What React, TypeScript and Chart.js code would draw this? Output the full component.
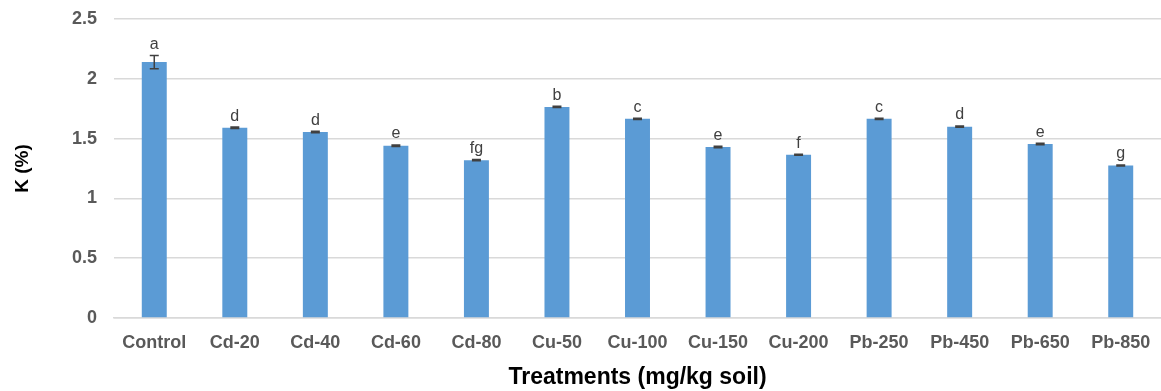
import React, { useEffect, useRef } from "react";
import { Chart, registerables } from "chart.js";

Chart.register(...registerables);

const categories = ["Control", "Cd-20", "Cd-40", "Cd-60", "Cd-80", "Cu-50", "Cu-100", "Cu-150", "Cu-200", "Pb-250", "Pb-450", "Pb-650", "Pb-850"];
const kValues = [2.14, 1.59, 1.555, 1.44, 1.32, 1.765, 1.665, 1.43, 1.365, 1.665, 1.6, 1.455, 1.275];
const kErrors = [0.055, 0.006, 0.006, 0.006, 0.005, 0.005, 0.005, 0.006, 0.004, 0.006, 0.006, 0.006, 0.004];
const sigLetters = ["a", "d", "d", "e", "fg", "b", "c", "e", "f", "c", "d", "e", "g"];
const yTicks = [0, 0.5, 1, 1.5, 2, 2.5];

const FONT = "'Liberation Sans', Arial, sans-serif";

const annotatePlugin = {
  id: "annotate",
  afterDatasetsDraw(chart: any) {
    const ctx = chart.ctx;
    const meta = chart.getDatasetMeta(0);
    const ys = chart.scales.y;
    ctx.save();
    meta.data.forEach((bar: any, i: number) => {
      const x = bar.x;
      const v = kValues[i];
      const e = kErrors[i];
      const yTop = ys.getPixelForValue(v + e);
      const yBot = ys.getPixelForValue(v - e);
      ctx.strokeStyle = "#404040";
      ctx.lineWidth = 1.5;
      ctx.beginPath();
      ctx.moveTo(x, yTop);
      ctx.lineTo(x, yBot);
      ctx.moveTo(x - 4.5, yTop);
      ctx.lineTo(x + 4.5, yTop);
      ctx.moveTo(x - 4.5, yBot);
      ctx.lineTo(x + 4.5, yBot);
      ctx.stroke();
      ctx.fillStyle = "#404040";
      ctx.font = "16px " + FONT;
      ctx.textAlign = "center";
      ctx.textBaseline = "middle";
      ctx.fillText(sigLetters[i], x, yTop - 11);
    });
    ctx.restore();
  },
};

export default function App() {
  const ref = useRef<HTMLCanvasElement | null>(null);
  useEffect(() => {
    document.body.style.margin = "0";
    const chart = new Chart(ref.current as HTMLCanvasElement, {
      type: "bar",
      data: {
        labels: categories,
        datasets: [
          {
            data: kValues,
            backgroundColor: "#5B9BD5",
            borderWidth: 0,
            barPercentage: 0.62,
            categoryPercentage: 0.5,
          },
        ],
      },
      options: {
        animation: false,
        responsive: false,
        maintainAspectRatio: false,
        layout: { padding: { top: 19, right: 0, left: 0, bottom: 0 } },
        plugins: { legend: { display: false }, tooltip: { enabled: false } },
        scales: {
          x: {
            grid: { display: false },
            border: { color: "#d9d9d9", width: 1.5 },
            ticks: {
              color: "#595959",
              font: { family: FONT, size: 18, weight: "bold" },
              padding: 6,
              maxRotation: 0,
              autoSkip: false,
            },
            title: {
              display: true,
              text: "Treatments (mg/kg soil)",
              color: "#000000",
              font: { family: FONT, size: 23, weight: "bold" },
              padding: { top: 0, bottom: 0 },
            },
            afterFit(scale: any) {
              scale.height = 73;
            },
          },
          y: {
            min: 0,
            max: 2.5,
            afterBuildTicks(scale: any) {
              scale.ticks = yTicks.map((v) => ({ value: v }));
            },
            grid: { color: "#d9d9d9", lineWidth: 1.5, drawTicks: false },
            border: { display: false },
            ticks: {
              color: "#595959",
              font: { family: FONT, size: 18, weight: "bold" },
              padding: 17,
              callback: (v: any) => String(v),
            },
            title: {
              display: true,
              text: "K (%)",
              color: "#000000",
              font: { family: FONT, size: 19, weight: "bold" },
              padding: { top: 11, bottom: 0 },
            },
            afterFit(scale: any) {
              scale.width = 114;
              scale.paddingTop = 0;
              scale.paddingBottom = 0;
            },
          },
        },
      },
      plugins: [annotatePlugin],
    });
    return () => chart.destroy();
  }, []);
  return (
    <div style={{ width: 1161, height: 391 }}>
      <canvas ref={ref} width={1161} height={391} style={{ display: "block" }} />
    </div>
  );
}
